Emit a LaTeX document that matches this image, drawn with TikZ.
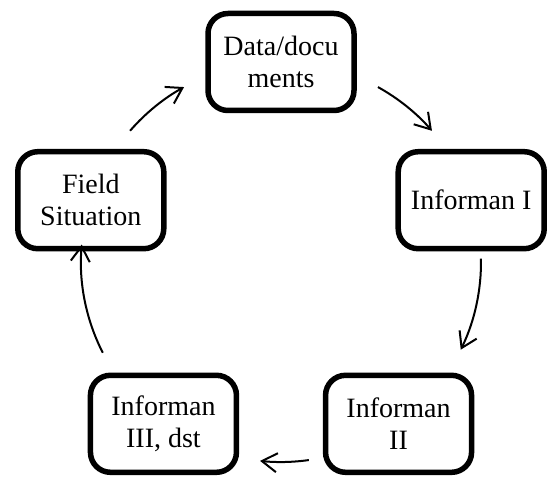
\documentclass[tikz,border=0pt]{standalone}
\usepackage{fontspec}
\setmainfont{Liberation Serif}
\usetikzlibrary{arrows.meta}

\tikzset{
  cyclebox/.style={draw, line width=5.5pt, rounded corners=20pt,
    minimum width=146pt, minimum height=97pt, inner sep=2pt,
    align=center, font=\fontsize{28}{32}\selectfont},
  cyclearrow/.style={line width=2pt,
    -{Straight Barb[length=15pt,width=19pt,line width=2pt]}}
}

\begin{document}
\begin{tikzpicture}[x=1pt,y=1pt]
	\useasboundingbox (0,0) rectangle (548,477);
	\coordinate (c) at (281,215);
	\begin{scope}[shift={(c)}]
		% boxes
		\node[cyclebox] (data) at (90:200) {Data/docu\\ments};
		\node[cyclebox] (inf1) at (18:200) {Informan I};
		\node[cyclebox] (inf2) at (-54:200) {Informan\\II};
		\node[cyclebox] (inf3) at (-126:200) {Informan\\III, dst};
		\node[cyclebox] (field) at (162:200) {Field\\Situation};
		
		% arrows on the circle
		\coordinate (a1) at (61:200);
		\coordinate (a2) at (1:200);
		\coordinate (a3) at (-82:200);
		\coordinate (a4) at (207:200);
		\coordinate (a5) at (139:200);
		\draw[cyclearrow] (a1) arc[start angle=61, end angle=41, radius=200];
		\draw[cyclearrow] (a2) arc[start angle=1, end angle=-26, radius=200];
		\draw[cyclearrow] (a3) arc[start angle=-82, end angle=-96, radius=200];
		\draw[cyclearrow] (a4) arc[start angle=207, end angle=175, radius=200];
		\draw[cyclearrow] (a5) arc[start angle=139, end angle=119, radius=200];
	\end{scope}
\end{tikzpicture}
\end{document}
